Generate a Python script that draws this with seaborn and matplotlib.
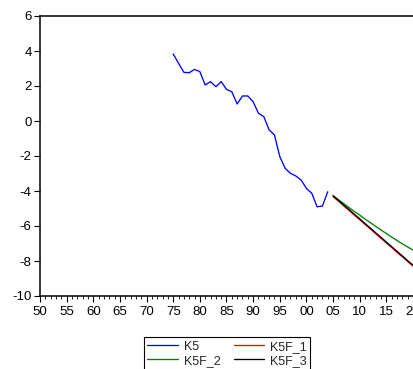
import matplotlib
matplotlib.use("Agg")
import matplotlib.pyplot as plt
import seaborn as sns
import pandas as pd
from matplotlib.ticker import MultipleLocator, FuncFormatter

# ---- data ----
k5_years = list(range(1975, 2005))
k5_values = [3.83, 3.30, 2.78, 2.76, 2.95, 2.82, 2.06, 2.25, 1.96, 2.25,
             1.81, 1.67, 0.97, 1.43, 1.43, 1.10, 0.44, 0.25, -0.51, -0.80,
             -2.03, -2.70, -2.99, -3.14, -3.37, -3.85, -4.13, -4.90, -4.86, -4.04]

fc_years = list(range(2005, 2021))
k5f_1 = [-4.32, -4.58, -4.85, -5.11, -5.38, -5.64, -5.91, -6.17, -6.44, -6.70,
         -6.97, -7.23, -7.50, -7.76, -8.03, -8.29]
k5f_2 = [-4.27, -4.50, -4.72, -4.95, -5.17, -5.38, -5.60, -5.81, -6.02, -6.23,
         -6.43, -6.63, -6.83, -7.02, -7.20, -7.37]
k5f_3 = [-4.27, -4.53, -4.80, -5.06, -5.33, -5.59, -5.86, -6.12, -6.39, -6.65,
         -6.92, -7.18, -7.45, -7.71, -7.98, -8.24]

x_ticks = list(range(1950, 2021, 5))
y_ticks = list(range(-10, 7, 2))

sns.set_style("ticks")
plt.rcParams['font.family'] = ['Liberation Sans', 'DejaVu Sans']

fig = plt.figure(figsize=(4.13, 3.69), dpi=100)
ax = fig.add_axes([40/413, 1 - 296/369, 1 - 40/413, (296 - 16)/369])

lw = 0.95
sns.lineplot(x=k5_years, y=k5_values, ax=ax, color="#0000ff", lw=lw, label="K5")
sns.lineplot(x=fc_years, y=k5f_1, ax=ax, color="#ff0000", lw=lw, label="K5F_1")
sns.lineplot(x=fc_years, y=k5f_2, ax=ax, color="#008000", lw=lw, label="K5F_2")
sns.lineplot(x=fc_years, y=k5f_3, ax=ax, color="#000000", lw=lw, label="K5F_3")

ax.set_xlim(1950, 2020)
ax.set_ylim(-10, 6)
ax.set_xticks(x_ticks)
ax.xaxis.set_minor_locator(MultipleLocator(1))
ax.xaxis.set_major_formatter(FuncFormatter(lambda v, p: f"{int(round(v)) % 100:02d}"))
ax.set_yticks(y_ticks)
ax.yaxis.set_major_formatter(FuncFormatter(lambda v, p: f"{int(round(v))}".replace("\u2212", "-")))
ax.set_xlabel("")
ax.set_ylabel("")

for s in ["left", "top", "bottom"]:
    ax.spines[s].set_visible(True)
    ax.spines[s].set_color("black")
    ax.spines[s].set_linewidth(1.1)
ax.spines["right"].set_visible(False)

ax.tick_params(axis="both", which="major", direction="out", length=4, width=0.8,
               labelsize=9.5, color="black", labelcolor="black")
ax.tick_params(axis="y", which="major", pad=2)
ax.tick_params(axis="x", which="major", pad=3.5)
ax.tick_params(axis="x", which="minor", direction="out", length=2, width=0.6, color="black")
ax.tick_params(axis="y", which="minor", left=False)

handles, labels = ax.get_legend_handles_labels()
ax.get_legend().remove()
order = [0, 2, 1, 3]
leg = fig.legend([handles[i] for i in order], [labels[i] for i in order],
                 loc="upper center", bbox_to_anchor=(227/413, 1 - 337/369),
                 ncol=2, fontsize=9, frameon=True, fancybox=False, shadow=False,
                 handlelength=2.45, handletextpad=0.45, columnspacing=1.05,
                 labelspacing=0.15, borderpad=0.3, borderaxespad=0)
leg.get_frame().set_edgecolor("black")
leg.get_frame().set_linewidth(0.8)
leg.get_frame().set_alpha(1)

fig.savefig("out.png", dpi=100)
